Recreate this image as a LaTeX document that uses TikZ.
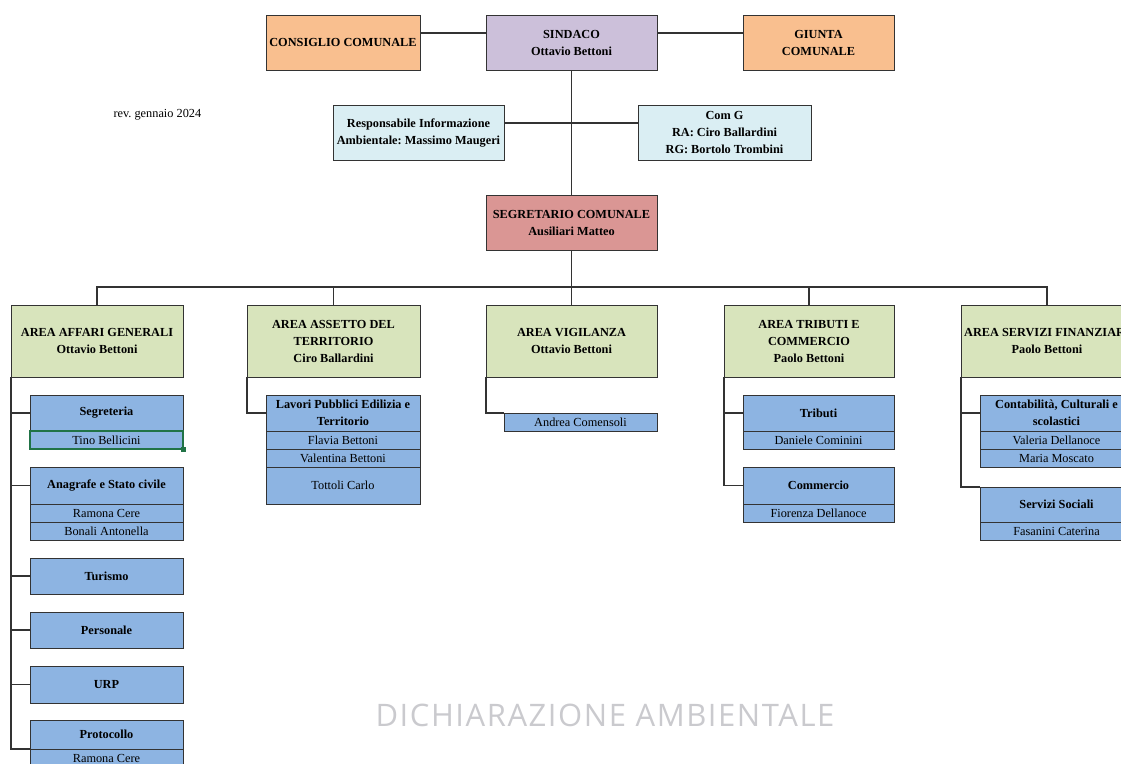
\documentclass[tikz,border=0pt]{standalone}
\usepackage{fontspec}
\setmainfont{Liberation Serif}
\newfontfamily\markfont[LetterSpace=5]{Open Sans}
\usetikzlibrary{positioning}
\definecolor{orangebox}{HTML}{F9BF8F}
\definecolor{lilacbox}{HTML}{CCC0DA}
\definecolor{palebox}{HTML}{DAEEF3}
\definecolor{rosebox}{HTML}{DA9694}
\definecolor{areagreen}{HTML}{D8E4BC}
\definecolor{officeblue}{HTML}{8DB4E2}
\definecolor{selgreen}{HTML}{217346}
\definecolor{markgray}{HTML}{CACACE}
\tikzset{
  box/.style={draw=black!80, line width=1pt, outer sep=0pt, inner sep=1pt, align=center,
    font=\fontsize{12.3}{17}\selectfont\bfseries},
  topbox/.style={box, minimum width=154, minimum height=55},
  areabox/.style={box, fill=areagreen, minimum width=172, minimum height=72},
  officebox/.style={box, fill=officeblue, minimum width=153, minimum height=36},
  namebox/.style={box, fill=officeblue, minimum width=153, minimum height=18,
    font=\fontsize{12.3}{17}\selectfont\mdseries},
  link/.style={draw=black!80, line width=1.2pt},
}
\begin{document}
\frenchspacing
\begin{tikzpicture}[x=1pt,y=-1pt]
    \useasboundingbox (0,0) rectangle (1121,763);
    \clip (0,0) rectangle (1121,763);
    % vertici
    \node[topbox, fill=orangebox] (consiglio) at (343,42.5) {CONSIGLIO COMUNALE};
    \node[topbox, fill=lilacbox, minimum width=171] (sindaco) at (571.5,42.5) {SINDACO\\Ottavio Bettoni};
    \node[topbox, fill=orangebox, minimum width=151] (giunta) at (818.5,42.5) {GIUNTA\\COMUNALE};
    \node[topbox, fill=palebox, minimum width=171] (resp) at (418.5,133) {Responsabile Informazione\\Ambientale: Massimo Maugeri};
    \node[topbox, fill=palebox, minimum width=173] (comg) at (724.5,133) {Com G\\RA: Ciro Ballardini\\RG: Bortolo Trombini};
    \node[topbox, fill=rosebox, minimum width=171] (segretario) at (571.5,223) {SEGRETARIO COMUNALE\\Ausiliari Matteo};
    \node[anchor=west, font=\fontsize{12.3}{14}\selectfont] (rev) at (110,115) {rev. gennaio 2024};
    \draw[link] ([yshift=9.5]consiglio.east) -- ([yshift=9.5]sindaco.west);
    \draw[link] ([yshift=9.5]sindaco.east) -- ([yshift=9.5]giunta.west);
    \draw[link] (sindaco.south) -- (segretario.north);
    \draw[link] ([yshift=10]resp.east) -- ([yshift=10]comg.west);
    % aree
    \node[areabox] (affari) at (97,341) {AREA AFFARI GENERALI\\Ottavio Bettoni};
    \node[areabox, minimum width=173] (assetto) at (333.5,341) {AREA ASSETTO DEL\\TERRITORIO\\Ciro Ballardini};
    \node[areabox, minimum width=171] (vigilanza) at (571.5,341) {AREA VIGILANZA\\Ottavio Bettoni};
    \node[areabox, minimum width=170] (atributi) at (809,341) {AREA TRIBUTI E\\COMMERCIO\\Paolo Bettoni};
    \node[areabox] (finanziari) at (1047,341) {AREA SERVIZI FINANZIARI\\Paolo Bettoni};
    \draw[link] (segretario.south) -- ++(0,37);
    \draw[link] (affari.north) -- ++(0,-18) -| (finanziari.north);
    \foreach \a in {assetto,vigilanza,atributi}
        \draw[link] (\a.north) -- ++(0,-18);
    % affari generali
    \node[officebox] (segreteria) at (106.5,413) {Segreteria};
    \node[namebox, below=0pt of segreteria] (tino) {Tino Bellicini};
    \node[officebox, minimum height=37] (anagrafe) at (106.5,485.5) {Anagrafe e Stato civile};
    \node[namebox, below=0pt of anagrafe] (ramona) {Ramona Cere};
    \node[namebox, below=0pt of ramona] (bonali) {Bonali Antonella};
    \node[officebox] (turismo) at (106.5,576) {Turismo};
    \node[officebox] (personale) at (106.5,630) {Personale};
    \node[officebox, minimum height=37] (urp) at (106.5,684.5) {URP};
    \node[officebox, minimum height=29] (protocollo) at (106.5,734.5) {Protocollo};
    \node[namebox, below=0pt of protocollo] (ramonap) {Ramona Cere};
    \draw[link] (affari.south west) |- (protocollo.south west);
    \foreach \o in {segreteria,anagrafe,turismo,personale,urp}
        \draw[link] (affari.south west |- \o.west) -- (\o.west);
    \draw[selgreen, line width=1.3pt] (tino.north west) rectangle (tino.south east);
    \fill[selgreen] (tino.south east) ++(-2.5,-2.5) rectangle ++(5,5);
    % assetto del territorio
    \node[officebox, minimum width=154] (lavori) at (343,413) {Lavori Pubblici Edilizia e\\Territorio};
    \node[namebox, minimum width=154, below=0pt of lavori] (flavia) {Flavia Bettoni};
    \node[namebox, minimum width=154, below=0pt of flavia] (valentina) {Valentina Bettoni};
    \node[namebox, minimum width=154, minimum height=37, below=0pt of valentina] (tottoli) {Tottoli Carlo};
    \draw[link] (assetto.south west) |- (lavori.west);
    % vigilanza
    \node[namebox] (andrea) at (580.5,422) {Andrea Comensoli};
    \draw[link] (vigilanza.south west) |- (andrea.north west);
    % tributi e commercio
    \node[officebox, minimum width=151] (tributi) at (818.5,413) {Tributi};
    \node[namebox, minimum width=151, below=0pt of tributi] (daniele) {Daniele Cominini};
    \node[officebox, minimum width=151, minimum height=37] (commercio) at (818.5,485.5) {Commercio};
    \node[namebox, minimum width=151, below=0pt of commercio] (fiorenza) {Fiorenza Dellanoce};
    \draw[link] (atributi.south west) |- (commercio.west);
    \draw[link] (atributi.south west |- tributi.west) -- (tributi.west);
    % servizi finanziari
    \node[officebox] (contabilita) at (1056.5,413) {Contabilità, Culturali e\\scolastici};
    \node[namebox, below=0pt of contabilita] (valeria) {Valeria Dellanoce};
    \node[namebox, below=0pt of valeria] (maria) {Maria Moscato};
    \node[officebox, minimum height=35] (sociali) at (1056.5,504.5) {Servizi Sociali};
    \node[namebox, below=0pt of sociali] (fasanini) {Fasanini Caterina};
    \draw[link] (finanziari.south west) |- (sociali.north west);
    \draw[link] (finanziari.south west |- contabilita.west) -- (contabilita.west);
    % marchio
    \node[font=\markfont\fontsize{31}{31}\selectfont, text=markgray] (marchio) at (605,715) {DICHIARAZIONE AMBIENTALE};
\end{tikzpicture}
\end{document}
